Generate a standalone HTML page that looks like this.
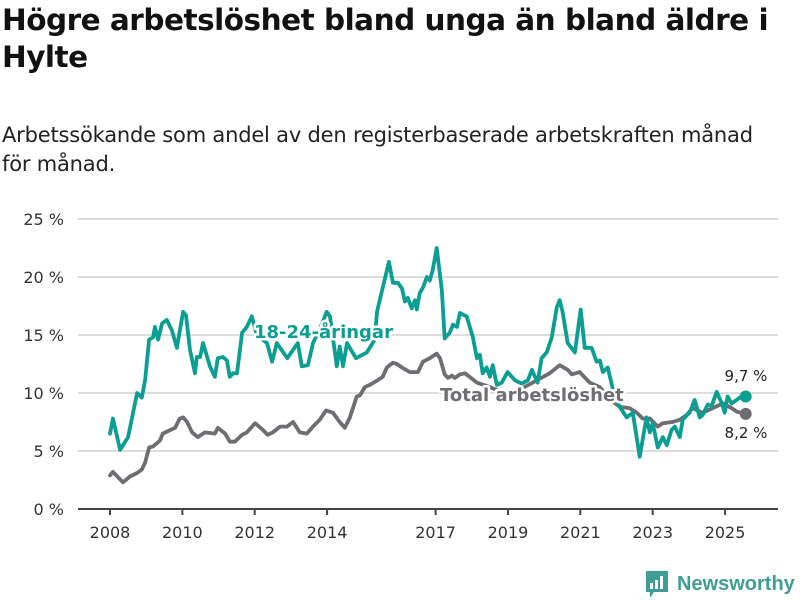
<!DOCTYPE html>
<html><head><meta charset="utf-8"><style>
body{margin:0;background:#fff;width:800px;height:600px;overflow:hidden;font-family:"Liberation Sans","DejaVu Sans",sans-serif}
h1{position:absolute;left:2px;top:2px;margin:0;font-size:29.5px;line-height:37px;font-weight:bold;color:#111;font-family:"DejaVu Sans","Liberation Sans",sans-serif;letter-spacing:-0.5px;width:798px}
p{position:absolute;left:2px;top:121px;margin:0;font-size:21px;line-height:29px;color:#222;font-family:"DejaVu Sans","Liberation Sans",sans-serif;letter-spacing:-0.2px;width:798px;white-space:nowrap}
svg{position:absolute;left:0;top:0}
</style></head><body>
<h1>Högre arbetslöshet bland unga än bland äldre i Hylte</h1>
<p>Arbetssökande som andel av den registerbaserade arbetskraften månad<br>för månad.</p>
<svg id="c" width="800" height="600" font-family="DejaVu Sans, Liberation Sans, sans-serif"></svg>
<script>
const yTicks=[0,5,10,15,20,25];
const xTicks=[2008,2010,2012,2014,2017,2019,2021,2023,2025];
const youthT=[0,.08,.28,.5,.75,.88,.97,1.08,1.19,1.24,1.33,1.44,1.57,1.71,1.85,2.02,2.1,2.21,2.35,2.4,2.49,2.57,2.76,2.9,2.98,3.12,3.23,3.31,3.4,3.51,3.65,3.78,3.92,4.06,4.34,4.48,4.61,4.9,5.19,5.3,5.47,5.61,5.8,5.99,6.08,6.27,6.35,6.44,6.55,6.8,7.1,7.32,7.38,7.54,7.71,7.82,7.96,8.07,8.15,8.23,8.34,8.43,8.48,8.56,8.65,8.76,8.84,8.92,9.03,9.17,9.25,9.39,9.48,9.59,9.67,9.86,10.03,10.14,10.22,10.3,10.41,10.5,10.58,10.69,10.83,10.99,11.19,11.38,11.55,11.66,11.82,11.93,12.07,12.21,12.35,12.43,12.51,12.65,12.85,13.01,13.12,13.31,13.45,13.54,13.62,13.76,13.9,14.0,14.09,14.28,14.45,14.64,14.83,14.92,15,15.14,15.28,15.39,15.52,15.61,15.75,15.83,16.02,16.16,16.3,16.38,16.52,16.63,16.77,16.91,16.99,17.07,17.18,17.32,17.49,17.57];
const youthV=[6.5,7.8,5.1,6.2,10,9.6,11.1,14.6,14.8,15.7,14.6,16,16.3,15.4,13.9,17,16.7,13.7,11.7,13.1,13.1,14.3,12.3,11.4,13,13.1,12.8,11.4,11.7,11.7,15.2,15.7,16.6,15,14.3,12.7,14.3,13,14.3,12.3,12.4,14.3,15.5,17,16.6,12.3,14,12.3,14.3,13,13.5,14.6,17,19.1,21.3,19.5,19.5,19,17.9,18.2,17.3,18,17.2,18.6,19.1,20,19.7,20.6,22.5,18.9,14.7,15.2,15.9,15.7,16.9,16.6,14.8,13,13.3,11.7,12.2,11.4,12.4,10.7,10.9,11.8,11.1,10.8,11.1,12,10.9,13,13.5,14.8,17.4,18,17,14.3,13.5,17.2,13.9,13.9,12.7,12.8,11.8,12.2,10.3,9.5,8.8,7.9,8.3,4.5,7.9,6.6,7.4,5.3,6.2,5.5,6.8,7.1,6.2,7.7,8.3,9.4,7.9,8.1,9,8.9,10.1,9.1,8.3,9.7,9.1,9.4,9.8,9.7];
const totalT=[0,.08,.36,.55,.75,.88,.97,1.08,1.19,1.38,1.46,1.66,1.8,1.93,2.02,2.13,2.27,2.43,2.62,2.9,2.98,3.18,3.31,3.45,3.65,3.78,4.01,4.23,4.36,4.5,4.7,4.89,5.06,5.25,5.44,5.61,5.8,5.97,6.16,6.35,6.49,6.63,6.82,6.91,7.04,7.18,7.4,7.54,7.65,7.82,7.93,8.07,8.29,8.51,8.65,8.84,9.03,9.12,9.25,9.34,9.45,9.53,9.67,9.81,9.94,10.14,10.5,10.91,11.33,11.74,12.15,12.43,12.65,12.76,12.98,13.26,13.54,13.81,14.09,14.36,14.56,14.72,14.92,15.14,15.28,15.55,15.75,15.94,16.1,16.38,16.66,16.94,17.18,17.32,17.57];
const totalV=[2.9,3.2,2.3,2.8,3.1,3.4,4,5.3,5.4,5.9,6.5,6.8,7,7.8,7.9,7.5,6.6,6.2,6.6,6.5,7,6.5,5.8,5.8,6.4,6.6,7.4,6.8,6.4,6.6,7.1,7.1,7.5,6.6,6.5,7.1,7.7,8.5,8.3,7.5,7,7.9,9.7,9.8,10.5,10.7,11.1,11.4,12.2,12.6,12.5,12.2,11.8,11.8,12.7,13,13.4,13,11.6,11.3,11.5,11.3,11.6,11.7,11.4,10.9,10.5,10,10.3,11,11.7,12.4,12,11.6,11.8,10.9,10.5,9.5,8.8,8.7,8.3,7.8,7.8,7.1,7.4,7.5,7.7,8.1,8.7,8.3,8.7,9.1,8.7,8.4,8.2];
const svg=document.getElementById('c');const NS='http://www.w3.org/2000/svg';
const X=t=>110+t*36.18; const XY=y=>110+(y-2008)*36.18; const Y=v=>509-v*11.6;
function mk(tag,at,p){const e=document.createElementNS(NS,tag);for(const k in at)e.setAttribute(k,at[k]);(p||svg).appendChild(e);return e;}
yTicks.forEach(v=>{
 if(v>0){const g=mk('line',{x1:78,x2:778,y1:Y(v),y2:Y(v),stroke:'#dddddd','stroke-width':2});
 
 }
 const t=mk('text',{x:64,y:Y(v)+6,'text-anchor':'end','font-size':16,fill:'#333'});t.textContent=v+' %';
 
 
});
const ax=mk('line',{x1:78,x2:778,y1:509,y2:509,stroke:'#444','stroke-width':2});


xTicks.forEach(y=>{
 const tk=mk('line',{x1:XY(y),x2:XY(y),y1:509,y2:515,stroke:'#444','stroke-width':2});
 
 
 const t=mk('text',{x:XY(y),y:538,'text-anchor':'middle','font-size':16,fill:'#333'});t.textContent=y;
 
 
});
function line(T,V,col,name){
 const d=T.map((t,i)=>(i?'L':'M')+X(t).toFixed(1)+','+Y(V[i]).toFixed(1)).join('');
 const p=mk('path',{d:d,fill:'none',stroke:col,'stroke-width':3.8,'stroke-linejoin':'round','stroke-linecap':'round'});
 
 
 const n=T.length-1;
 const c=mk('circle',{cx:X(T[n]),cy:Y(V[n]),r:6,fill:col});
 
 
}
line(totalT,totalV,'#6d6d72','total-line');
line(youthT,youthV,'#0b9e92','youth-line');
function lab(x,y,txt,col,name,anchor,size,weight){
 const t=mk('text',{x:x,y:y,'font-size':size,'font-weight':weight,fill:col,stroke:'#fff','stroke-width':5,'paint-order':'stroke','stroke-linejoin':'round','text-anchor':anchor});t.textContent=txt;
 
 
}
lab(254,338,'18-24-åringar','#0b9e92','youth-series-label','start',18,'bold');
lab(440,401,'Total arbetslöshet','#6d6d72','total-series-label','start',18,'bold');
lab(746,381,'9,7 %','#222','youth-end-value','middle',15,'normal');
lab(746,438,'8,2 %','#222','total-end-value','middle',15,'normal');
const lg=mk('g',{});


mk('path',{d:'M646,571h22v21h-14l-4,6v-6h-4z',fill:'#3f9e94'},lg);
mk('rect',{x:650,y:583,width:3,height:6,fill:'#fff'},lg);
mk('rect',{x:655,y:580,width:3,height:9,fill:'#fff'},lg);
mk('rect',{x:660,y:576,width:3,height:13,fill:'#fff'},lg);
const lt=mk('text',{x:677,y:590,'font-size':20,'font-weight':'bold',fill:'#3f9e94','font-family':'Liberation Sans, sans-serif'},lg);lt.textContent='Newsworthy';
</script>
</body></html>
